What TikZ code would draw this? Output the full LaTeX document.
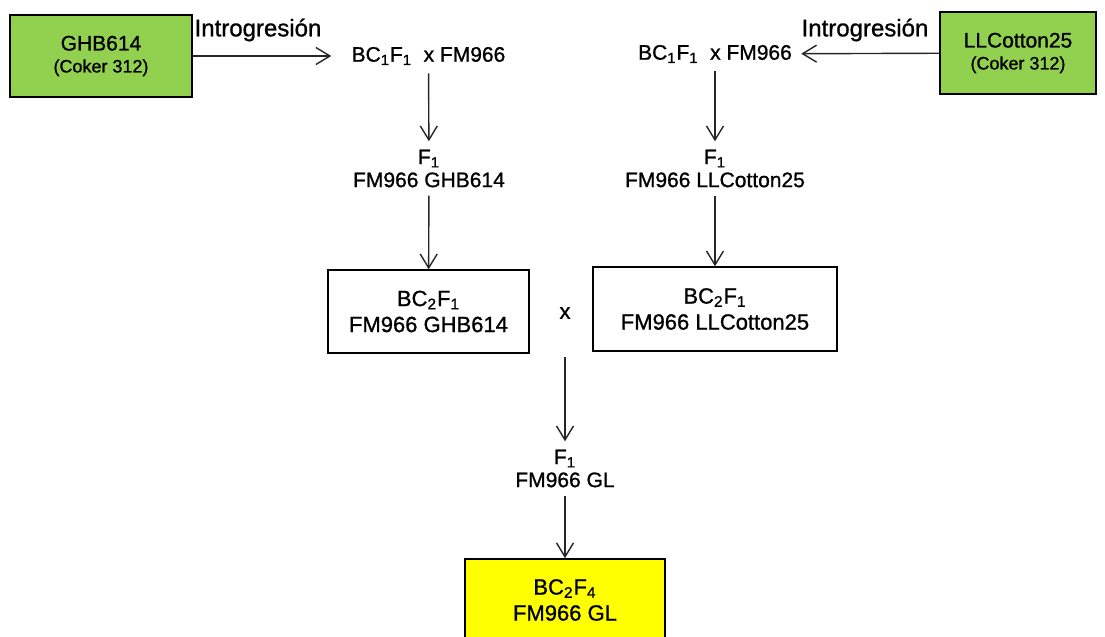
\documentclass[tikz,border=0pt]{standalone}
\usepackage{fontspec}
\setmainfont{Liberation Sans}[FakeBold=1]
\usetikzlibrary{arrows.meta}
\definecolor{parentgreen}{HTML}{92D050}
\definecolor{finalyellow}{HTML}{FFFF00}
\tikzset{
  block/.style={
    rectangle,
    draw=black,
    line width=0.7pt,
    align=center,
    font=\fontsize{11}{13}\selectfont
  },
  parent/.style={block, fill=parentgreen, line width=0.8pt, font=\fontsize{10.5}{11}\selectfont},
  plain/.style={align=center, inner xsep=4.5pt, inner ysep=4pt, font=\fontsize{10.5}{11.5}\selectfont},
  intro/.style={inner sep=0pt, font=\fontsize{12}{14}\selectfont}
}
\tikzstyle{arrow} = [-{Straight Barb[length=7pt, width=8.5pt]}, line width=0.7pt, draw=black!85]
\def\low#1{\textsubscript{#1}}
\def\coker{{\fontsize{9}{10}\selectfont (Coker 312)}}

\begin{document}
\begin{tikzpicture}[x=0.5pt, y=-0.5pt]
    \useasboundingbox (0, 0) rectangle (1105, 637);
    \clip (0, 0) rectangle (1105, 637);
    % parents
    \node[parent, minimum width=91pt, minimum height=41pt] (ghb) at (101, 56) {GHB614\\\coker};
    \node[parent, minimum width=78pt, minimum height=41pt] (llc) at (1018, 53) {LLCotton25\\\coker};
    \node[intro] (introL) at (258, 30) {Introgresión};
    \node[intro] (introR) at (865, 30) {Introgresión};
    % left line
    \node[plain, inner xsep=10pt] (bcL) at (428.5, 56) {BC\low{1}F\low{1}\ \ x FM966};
    \node[plain] (f1L) at (429, 168.5) {F\low{1}\\FM966 GHB614};
    \node[block, minimum width=100.5pt, minimum height=41.5pt] (bc2L) at (428.5, 311.5) {BC\low{2}F\low{1}\\FM966 GHB614};
    % right line
    \node[plain] (bcR) at (715, 54) {BC\low{1}F\low{1}\ \ x FM966};
    \node[plain] (f1R) at (715, 168.5) {F\low{1}\\FM966 LLCotton25};
    \node[block, minimum width=122pt, minimum height=42pt] (bc2R) at (715, 309) {BC\low{2}F\low{1}\\FM966 LLCotton25};
    % cross
    \node[plain, font=\fontsize{11}{13}\selectfont] (cross) at (565, 313) {x};
    \coordinate (split) at (565, 357);
    \node[plain] (f1GL) at (565, 468.5) {F\low{1}\\FM966 GL};
    \node[block, fill=finalyellow, line width=0.8pt, minimum width=100pt, minimum height=41pt] (gl) at (565, 600) {BC\low{2}F\low{4}\\FM966 GL};
    \draw[arrow] (ghb) -- (bcL);
    \draw[arrow] (llc) -- (bcR);
    \draw[arrow] (bcL) -- (f1L);
    \draw[arrow] (f1L) -- (bc2L);
    \draw[arrow] (bcR) -- (f1R);
    \draw[arrow] (f1R) -- (bc2R);
    \draw[arrow] (split) -- (f1GL);
    \draw[arrow] (f1GL) -- (gl);
\end{tikzpicture}
\end{document}
